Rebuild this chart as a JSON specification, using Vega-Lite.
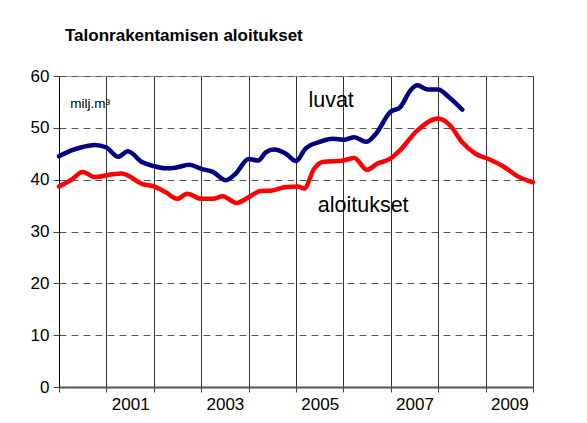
{
  "$schema": "https://vega.github.io/schema/vega-lite/v6.json",
  "width": 474,
  "height": 311,
  "autosize": "none",
  "padding": {"left": 59, "top": 76, "right": 54, "bottom": 36},
  "background": "white",
  "title": {
    "text": "Talonrakentamisen aloitukset",
    "anchor": "start",
    "frame": "group",
    "dx": 6,
    "offset": 22,
    "font": "Liberation Sans",
    "fontSize": 17,
    "fontWeight": "bold",
    "color": "black"
  },
  "config": {
    "view": {"stroke": "#999999", "strokeWidth": 1},
    "axis": {"labelFont": "Liberation Sans", "labelColor": "black"}
  },
  "datasets": {
    "series": [
      {"date": "2000-01-01", "series": "luvat", "value": 44.5},
      {"date": "2000-04-01", "series": "luvat", "value": 45.6},
      {"date": "2000-07-01", "series": "luvat", "value": 46.3},
      {"date": "2000-10-01", "series": "luvat", "value": 46.7},
      {"date": "2001-01-01", "series": "luvat", "value": 46.2},
      {"date": "2001-04-01", "series": "luvat", "value": 44.4},
      {"date": "2001-06-15", "series": "luvat", "value": 45.5},
      {"date": "2001-10-01", "series": "luvat", "value": 43.4},
      {"date": "2002-01-01", "series": "luvat", "value": 42.6},
      {"date": "2002-04-01", "series": "luvat", "value": 42.2},
      {"date": "2002-06-15", "series": "luvat", "value": 42.3},
      {"date": "2002-10-01", "series": "luvat", "value": 42.9},
      {"date": "2003-01-01", "series": "luvat", "value": 42.1},
      {"date": "2003-04-01", "series": "luvat", "value": 41.5},
      {"date": "2003-07-10", "series": "luvat", "value": 39.9},
      {"date": "2003-09-25", "series": "luvat", "value": 41.2},
      {"date": "2004-01-01", "series": "luvat", "value": 44.0},
      {"date": "2004-03-15", "series": "luvat", "value": 43.7},
      {"date": "2004-05-15", "series": "luvat", "value": 45.3},
      {"date": "2004-07-15", "series": "luvat", "value": 45.8},
      {"date": "2004-10-15", "series": "luvat", "value": 45.0},
      {"date": "2005-01-01", "series": "luvat", "value": 43.6},
      {"date": "2005-03-15", "series": "luvat", "value": 46.0},
      {"date": "2005-07-01", "series": "luvat", "value": 47.3},
      {"date": "2005-10-15", "series": "luvat", "value": 47.9},
      {"date": "2006-01-10", "series": "luvat", "value": 47.7},
      {"date": "2006-03-25", "series": "luvat", "value": 48.2},
      {"date": "2006-06-25", "series": "luvat", "value": 47.3},
      {"date": "2006-09-10", "series": "luvat", "value": 48.9},
      {"date": "2006-12-25", "series": "luvat", "value": 53.0},
      {"date": "2007-03-15", "series": "luvat", "value": 54.0},
      {"date": "2007-06-01", "series": "luvat", "value": 57.2},
      {"date": "2007-07-25", "series": "luvat", "value": 58.2},
      {"date": "2007-10-10", "series": "luvat", "value": 57.4},
      {"date": "2008-01-01", "series": "luvat", "value": 57.4},
      {"date": "2008-03-25", "series": "luvat", "value": 55.9},
      {"date": "2008-07-05", "series": "luvat", "value": 53.5},
      {"date": "2000-01-01", "series": "aloitukset", "value": 38.7},
      {"date": "2000-04-01", "series": "aloitukset", "value": 39.9},
      {"date": "2000-07-01", "series": "aloitukset", "value": 41.5},
      {"date": "2000-10-01", "series": "aloitukset", "value": 40.5},
      {"date": "2001-02-01", "series": "aloitukset", "value": 41.0},
      {"date": "2001-05-01", "series": "aloitukset", "value": 41.2},
      {"date": "2001-06-15", "series": "aloitukset", "value": 40.8},
      {"date": "2001-10-01", "series": "aloitukset", "value": 39.2},
      {"date": "2002-01-01", "series": "aloitukset", "value": 38.7},
      {"date": "2002-04-01", "series": "aloitukset", "value": 37.6},
      {"date": "2002-07-01", "series": "aloitukset", "value": 36.3},
      {"date": "2002-09-15", "series": "aloitukset", "value": 37.3},
      {"date": "2003-01-01", "series": "aloitukset", "value": 36.3},
      {"date": "2003-04-01", "series": "aloitukset", "value": 36.3},
      {"date": "2003-06-15", "series": "aloitukset", "value": 36.8},
      {"date": "2003-10-01", "series": "aloitukset", "value": 35.5},
      {"date": "2004-01-01", "series": "aloitukset", "value": 36.6},
      {"date": "2004-04-01", "series": "aloitukset", "value": 37.8},
      {"date": "2004-07-01", "series": "aloitukset", "value": 37.9},
      {"date": "2004-10-15", "series": "aloitukset", "value": 38.6},
      {"date": "2005-01-15", "series": "aloitukset", "value": 38.7},
      {"date": "2005-03-05", "series": "aloitukset", "value": 38.3},
      {"date": "2005-05-20", "series": "aloitukset", "value": 42.1},
      {"date": "2005-07-25", "series": "aloitukset", "value": 43.4},
      {"date": "2006-01-01", "series": "aloitukset", "value": 43.7},
      {"date": "2006-03-25", "series": "aloitukset", "value": 44.2},
      {"date": "2006-07-01", "series": "aloitukset", "value": 41.9},
      {"date": "2006-09-20", "series": "aloitukset", "value": 43.1},
      {"date": "2006-12-25", "series": "aloitukset", "value": 44.0},
      {"date": "2007-03-10", "series": "aloitukset", "value": 45.6},
      {"date": "2007-07-25", "series": "aloitukset", "value": 49.5},
      {"date": "2008-01-01", "series": "aloitukset", "value": 51.8},
      {"date": "2008-04-01", "series": "aloitukset", "value": 50.5},
      {"date": "2008-07-01", "series": "aloitukset", "value": 47.3},
      {"date": "2008-10-15", "series": "aloitukset", "value": 45.0},
      {"date": "2009-02-01", "series": "aloitukset", "value": 43.9},
      {"date": "2009-05-15", "series": "aloitukset", "value": 42.6},
      {"date": "2009-09-15", "series": "aloitukset", "value": 40.5},
      {"date": "2009-12-31", "series": "aloitukset", "value": 39.5}
    ],
    "labels": [
      {"date": "2005-04-06", "value": 54.1, "label": "luvat", "size": "big"},
      {"date": "2005-06-17", "value": 33.75, "label": "aloitukset", "size": "big"},
      {"date": "2000-03-28", "value": 53.9, "label": "milj.m³", "size": "small"}
    ]
  },
  "layer": [
    {
      "data": {"name": "series", "format": {"parse": {"date": "date:'%Y-%m-%d'"}}},
      "mark": {"type": "line", "strokeWidth": 4.5, "interpolate": "monotone", "strokeCap": "round", "strokeJoin": "round"},
      "encoding": {
        "x": {
          "field": "date",
          "type": "temporal",
          "scale": {"domain": [{"year": 2000, "month": 1, "date": 1}, {"year": 2010, "month": 1, "date": 1}]},
          "axis": {
            "title": null,
            "values": [
              {"year": 2000, "month": 1, "date": 1}, {"year": 2001, "month": 1, "date": 1},
              {"year": 2002, "month": 1, "date": 1}, {"year": 2003, "month": 1, "date": 1},
              {"year": 2004, "month": 1, "date": 1}, {"year": 2005, "month": 1, "date": 1},
              {"year": 2006, "month": 1, "date": 1}, {"year": 2007, "month": 1, "date": 1},
              {"year": 2008, "month": 1, "date": 1}, {"year": 2009, "month": 1, "date": 1},
              {"year": 2010, "month": 1, "date": 1}
            ],
            "labelExpr": "year(datum.value) % 2 == 1 ? timeFormat(datum.value, '%Y') : ''",
            "labelOffset": 23.7,
            "labelFontSize": 17,
            "labelPadding": 4,
            "labelFlush": false,
            "labelOverlap": false,
            "tickSize": 5,
            "tickColor": "#444444",
            "domainColor": "#555555",
            "domainWidth": 2,
            "grid": true,
            "gridColor": "#333333",
            "gridWidth": 1
          }
        },
        "y": {
          "field": "value",
          "type": "quantitative",
          "scale": {"domain": [0, 60], "nice": false, "zero": true},
          "axis": {
            "title": null,
            "values": [0, 10, 20, 30, 40, 50, 60],
            "labelFontSize": 17,
            "labelPadding": 4,
            "tickSize": 6,
            "tickColor": "#444444",
            "domainColor": "black",
            "grid": true,
            "gridColor": "#555555",
            "gridDash": [7, 5],
            "gridWidth": 1
          }
        },
        "color": {
          "field": "series",
          "type": "nominal",
          "scale": {"domain": ["luvat", "aloitukset"], "range": ["#000080", "#ff0000"]},
          "legend": null
        }
      }
    },
    {
      "data": {"name": "labels", "format": {"parse": {"date": "date:'%Y-%m-%d'"}}},
      "mark": {"type": "text", "align": "left", "baseline": "alphabetic", "font": "Liberation Sans", "color": "black"},
      "encoding": {
        "x": {"field": "date", "type": "temporal"},
        "y": {"field": "value", "type": "quantitative"},
        "text": {"field": "label"},
        "size": {"field": "size", "type": "nominal", "scale": {"domain": ["big", "small"], "range": [21.5, 13.5]}, "legend": null}
      }
    }
  ]
}
